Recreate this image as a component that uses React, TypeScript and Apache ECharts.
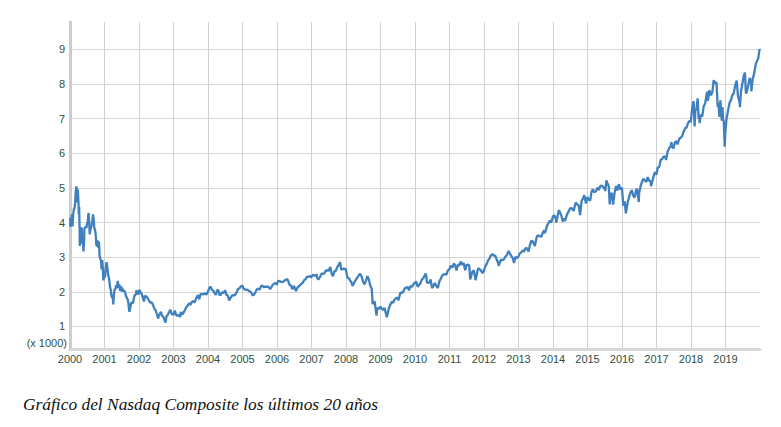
import React, { useEffect, useRef } from "react";
import * as echarts from "echarts";

// Nasdaq Composite closes (points)
const dates: string[] = [
  "2000-01-03","2000-01-04","2000-01-07","2000-01-14","2000-01-21","2000-01-28","2000-02-04","2000-02-11","2000-02-18","2000-02-25","2000-03-03","2000-03-10","2000-03-15","2000-03-24","2000-03-31","2000-04-03","2000-04-07","2000-04-12","2000-04-14","2000-04-18","2000-04-24","2000-04-28","2000-05-05","2000-05-10","2000-05-12","2000-05-19","2000-05-23","2000-05-30","2000-06-02","2000-06-09","2000-06-16","2000-06-23","2000-06-30","2000-07-07","2000-07-14","2000-07-17","2000-07-21","2000-07-28","2000-08-04","2000-08-11","2000-08-18","2000-08-25","2000-09-01","2000-09-08","2000-09-15","2000-09-22","2000-09-29","2000-10-06","2000-10-13","2000-10-20","2000-10-27","2000-11-03","2000-11-10","2000-11-17","2000-11-24","2000-12-01","2000-12-08","2000-12-15","2000-12-20","2000-12-29",
  "2001-01-05","2001-01-12","2001-01-19","2001-01-24","2001-02-02","2001-02-09","2001-02-16","2001-02-23","2001-03-02","2001-03-09","2001-03-16","2001-03-22","2001-03-30","2001-04-04","2001-04-06","2001-04-12","2001-04-18","2001-04-27","2001-05-04","2001-05-11","2001-05-22","2001-05-31","2001-06-08","2001-06-15","2001-06-22","2001-06-29","2001-07-06","2001-07-13","2001-07-20","2001-07-31","2001-08-10","2001-08-17","2001-08-31","2001-09-10","2001-09-21","2001-09-28","2001-10-05","2001-10-12","2001-10-19","2001-10-31","2001-11-09","2001-11-16","2001-11-30","2001-12-05","2001-12-14","2001-12-21","2001-12-31",
  "2002-01-04","2002-01-18","2002-01-31","2002-02-22","2002-03-06","2002-03-28","2002-04-15","2002-04-30","2002-05-15","2002-05-31","2002-06-14","2002-06-28","2002-07-10","2002-07-23","2002-07-31","2002-08-22","2002-08-30","2002-09-13","2002-09-30","2002-10-09","2002-10-18","2002-10-31","2002-11-15","2002-11-27","2002-12-13","2002-12-31",
  "2003-01-14","2003-01-31","2003-02-14","2003-02-28","2003-03-11","2003-03-21","2003-03-31","2003-04-15","2003-04-30","2003-05-15","2003-05-30","2003-06-17","2003-06-30","2003-07-15","2003-07-31","2003-08-11","2003-08-29","2003-09-18","2003-09-30","2003-10-15","2003-10-31","2003-11-14","2003-11-28","2003-12-15","2003-12-31",
  "2004-01-15","2004-01-26","2004-02-13","2004-02-27","2004-03-10","2004-03-24","2004-04-08","2004-04-20","2004-04-30","2004-05-14","2004-05-28","2004-06-15","2004-06-30","2004-07-15","2004-07-30","2004-08-12","2004-08-31","2004-09-15","2004-09-30","2004-10-15","2004-10-29","2004-11-15","2004-11-30","2004-12-15","2004-12-31",
  "2005-01-14","2005-01-31","2005-02-15","2005-02-28","2005-03-15","2005-03-31","2005-04-15","2005-04-28","2005-05-16","2005-05-31","2005-06-15","2005-06-30","2005-07-15","2005-07-29","2005-08-15","2005-08-31","2005-09-15","2005-09-30","2005-10-21","2005-10-31","2005-11-15","2005-11-30","2005-12-15","2005-12-30",
  "2006-01-13","2006-01-31","2006-02-15","2006-02-28","2006-03-15","2006-03-31","2006-04-19","2006-04-28","2006-05-15","2006-05-31","2006-06-13","2006-06-30","2006-07-21","2006-07-31","2006-08-15","2006-08-31","2006-09-15","2006-09-29","2006-10-16","2006-10-31","2006-11-15","2006-11-30","2006-12-15","2006-12-29",
  "2007-01-16","2007-01-31","2007-02-26","2007-02-28","2007-03-14","2007-03-30","2007-04-16","2007-04-30","2007-05-15","2007-05-31","2007-06-15","2007-06-29","2007-07-19","2007-07-31","2007-08-16","2007-08-31","2007-09-14","2007-09-28","2007-10-15","2007-10-31","2007-11-12","2007-11-30","2007-12-14","2007-12-31",
  "2008-01-15","2008-01-31","2008-02-15","2008-02-29","2008-03-10","2008-03-31","2008-04-15","2008-04-30","2008-05-19","2008-05-30","2008-06-13","2008-06-30","2008-07-15","2008-07-31","2008-08-15","2008-08-29","2008-09-15","2008-09-30","2008-10-10","2008-10-31","2008-11-20","2008-11-28","2008-12-15","2008-12-31",
  "2009-01-15","2009-01-30","2009-02-13","2009-02-27","2009-03-09","2009-03-31","2009-04-15","2009-04-30","2009-05-15","2009-05-29","2009-06-15","2009-06-30","2009-07-10","2009-07-31","2009-08-17","2009-08-31","2009-09-15","2009-09-30","2009-10-15","2009-10-30","2009-11-13","2009-11-30","2009-12-15","2009-12-31",
  "2010-01-15","2010-01-29","2010-02-05","2010-02-26","2010-03-15","2010-03-31","2010-04-23","2010-04-30","2010-05-07","2010-05-28","2010-06-15","2010-06-30","2010-07-15","2010-07-30","2010-08-13","2010-08-31","2010-09-15","2010-09-30","2010-10-15","2010-10-29","2010-11-15","2010-11-30","2010-12-15","2010-12-31",
  "2011-01-14","2011-01-31","2011-02-15","2011-02-28","2011-03-16","2011-03-31","2011-04-15","2011-04-29","2011-05-16","2011-05-31","2011-06-16","2011-06-30","2011-07-15","2011-07-29","2011-08-08","2011-08-31","2011-09-15","2011-09-30","2011-10-03","2011-10-31","2011-11-15","2011-11-30","2011-12-15","2011-12-30",
  "2012-01-13","2012-01-31","2012-02-15","2012-02-29","2012-03-15","2012-03-30","2012-04-16","2012-04-30","2012-05-15","2012-05-31","2012-06-04","2012-06-29","2012-07-13","2012-07-31","2012-08-15","2012-08-31","2012-09-19","2012-09-28","2012-10-15","2012-10-31","2012-11-15","2012-11-30","2012-12-14","2012-12-31",
  "2013-01-15","2013-01-31","2013-02-15","2013-02-28","2013-03-15","2013-03-28","2013-04-18","2013-04-30","2013-05-15","2013-05-31","2013-06-24","2013-06-28","2013-07-15","2013-07-31","2013-08-15","2013-08-30","2013-09-16","2013-09-30","2013-10-08","2013-10-31","2013-11-15","2013-11-29","2013-12-13","2013-12-31",
  "2014-01-15","2014-01-31","2014-02-04","2014-02-28","2014-03-05","2014-03-31","2014-04-15","2014-04-30","2014-05-08","2014-05-30","2014-06-16","2014-06-30","2014-07-15","2014-07-31","2014-08-07","2014-08-29","2014-09-15","2014-09-30","2014-10-15","2014-10-31","2014-11-14","2014-11-28","2014-12-16","2014-12-31",
  "2015-01-15","2015-01-30","2015-02-13","2015-02-27","2015-03-13","2015-03-31","2015-04-15","2015-04-30","2015-05-15","2015-05-29","2015-06-15","2015-06-30","2015-07-08","2015-07-20","2015-07-31","2015-08-14","2015-08-24","2015-08-31","2015-09-15","2015-09-29","2015-10-15","2015-10-30","2015-11-13","2015-11-30","2015-12-14","2015-12-31",
  "2016-01-15","2016-01-29","2016-02-11","2016-02-29","2016-03-15","2016-03-31","2016-04-15","2016-04-29","2016-05-13","2016-05-31","2016-06-08","2016-06-27","2016-06-30","2016-07-15","2016-07-29","2016-08-15","2016-08-31","2016-09-15","2016-09-30","2016-10-14","2016-10-31","2016-11-04","2016-11-30","2016-12-15","2016-12-30",
  "2017-01-13","2017-01-31","2017-02-15","2017-02-28","2017-03-15","2017-03-31","2017-04-13","2017-04-28","2017-05-15","2017-05-31","2017-06-08","2017-06-14","2017-06-30","2017-07-14","2017-07-31","2017-08-11","2017-08-31","2017-09-15","2017-09-29","2017-10-13","2017-10-31","2017-11-15","2017-11-30","2017-12-15","2017-12-29",
  "2018-01-12","2018-01-26","2018-01-31","2018-02-08","2018-02-16","2018-02-28","2018-03-12","2018-03-23","2018-03-29","2018-04-02","2018-04-13","2018-04-30","2018-05-15","2018-05-31","2018-06-20","2018-06-29","2018-07-13","2018-07-31","2018-08-15","2018-08-29","2018-09-14","2018-09-28","2018-10-11","2018-10-19","2018-10-29","2018-11-08","2018-11-23","2018-11-30","2018-12-07","2018-12-14","2018-12-24","2018-12-31",
  "2019-01-11","2019-01-31","2019-02-15","2019-02-28","2019-03-15","2019-03-29","2019-04-15","2019-04-30","2019-05-13","2019-05-31","2019-06-03","2019-06-14","2019-06-28","2019-07-15","2019-07-26","2019-08-05","2019-08-14","2019-08-30","2019-09-13","2019-09-30","2019-10-02","2019-10-15","2019-10-31","2019-11-15","2019-11-29","2019-12-13","2019-12-27","2019-12-31"
];

const closes: number[] = [
  4131,3901,3882,4064,4235,3887,4244,4395,4411,4590,4914,5048,4583,4963,4573,4223,4446,3769,3321,3794,3482,3860,3817,3385,3529,3390,3164,3459,3813,3874,3860,3845,3966,4023,4246,4274,4095,3663,3787,3789,3930,4042,4234,4098,3835,3803,3672,3361,3316,3483,3278,3451,3028,3027,2904,2645,2917,2653,2332,2470,
  2407,2626,2770,2859,2660,2470,2425,2262,2117,2052,1890,1830,1840,1638,1720,1961,2079,2075,2192,2107,2313,2110,2215,2028,2034,2160,2004,2084,2029,2027,1956,1867,1805,1695,1423,1498,1605,1703,1671,1690,1828,1898,1930,2046,1953,1945,1950,
  2059,1990,1934,1724,1890,1845,1756,1688,1696,1615,1504,1463,1346,1229,1328,1422,1315,1291,1172,1114,1287,1330,1411,1487,1362,1336,
  1460,1321,1310,1337,1271,1421,1341,1392,1464,1551,1596,1677,1623,1716,1735,1687,1810,1909,1787,1939,1932,1930,1960,1919,2003,
  2111,2153,2053,2030,1964,1910,2052,2050,1920,1905,1987,1970,2048,1913,1887,1752,1838,1905,1897,1912,1975,2094,2097,2160,2175,
  2087,2062,2061,2052,2016,1999,1909,1904,1977,2068,2091,2057,2157,2185,2137,2152,2147,2152,2082,2120,2200,2233,2253,2205,
  2317,2306,2282,2281,2311,2340,2370,2323,2198,2179,2072,2172,2020,2091,2157,2184,2235,2258,2344,2367,2440,2432,2457,2415,
  2497,2464,2504,2416,2350,2422,2518,2525,2525,2605,2627,2603,2720,2546,2451,2596,2602,2701,2780,2859,2641,2661,2668,2652,
  2417,2390,2321,2271,2169,2279,2351,2413,2492,2523,2454,2293,2215,2326,2453,2368,2179,2092,1649,1721,1316,1536,1508,1577,
  1511,1476,1535,1378,1268,1529,1626,1717,1680,1774,1817,1835,1756,1979,1969,2009,2102,2122,2139,2045,2167,2145,2212,2269,
  2287,2147,2141,2238,2362,2398,2530,2461,2265,2257,2357,2109,2179,2255,2173,2114,2301,2369,2468,2507,2514,2498,2617,2653,
  2755,2700,2816,2782,2616,2781,2764,2874,2782,2835,2623,2774,2789,2756,2358,2579,2622,2415,2335,2684,2657,2620,2539,2605,
  2724,2814,2916,2967,3056,3091,3042,3046,2933,2827,2748,2935,2908,2940,3016,3067,3182,3116,3044,2977,2836,3010,2971,3020,
  3110,3142,3198,3160,3249,3268,3166,3329,3471,3456,3321,3403,3607,3626,3602,3590,3717,3771,3694,3920,3985,4060,4000,4177,
  4215,4104,3996,4308,4358,4199,4034,4115,4051,4243,4321,4408,4417,4370,4335,4580,4519,4493,4215,4631,4688,4792,4547,4736,
  4662,4635,4893,4964,4871,4901,5011,4941,5048,5070,5030,4987,4910,5219,5128,5048,4526,4777,4860,4517,4870,5054,4927,5109,4953,5007,
  4488,4614,4267,4558,4728,4870,4938,4775,4718,4948,4975,4594,4843,5029,5162,5262,5213,5173,5312,5214,5189,5046,5324,5457,5383,
  5575,5615,5819,5825,5900,5912,5806,6048,6149,6199,6322,6195,6140,6312,6348,6256,6429,6448,6496,6606,6728,6743,6874,6937,6903,
  7261,7505,7411,6777,7239,7273,7588,6993,7063,6870,7107,7066,7351,7442,7781,7510,7826,7672,7775,8109,8010,8046,7329,7449,7050,7530,6939,7331,6969,6910,6193,6635,
  6971,7282,7472,7533,7688,7729,7976,8095,7647,7453,7333,7797,8006,8258,8330,7726,7774,7963,8176,7999,7785,8149,8292,8541,8665,8735,9006,8973
];

const yTickValues: number[] = [1, 2, 3, 4, 5, 6, 7, 8, 9];
const yearStart = 2000;
const yearEnd = 2020;
const yAxisNote = "(x 1000)";
const caption = "Gráfico del Nasdaq Composite los últimos 20 años";

function toDecimalYear(s: string): number {
  const [y, m, d] = s.split("-").map(Number);
  const start = Date.UTC(y, 0, 1);
  const end = Date.UTC(y + 1, 0, 1);
  const t = Date.UTC(y, m - 1, d);
  return y + (t - start) / (end - start);
}

export default function App() {
  const ref = useRef<HTMLDivElement>(null);
  useEffect(() => {
    if (!ref.current) return;
    const chart = echarts.init(ref.current, null, { renderer: "svg" });
    const data = dates.map((d, i) => [toDecimalYear(d), closes[i] / 1000]);
    const labelColor = "#2f5045";
    chart.setOption({
      animation: false,
      grid: { left: 70, right: 21, top: 22, bottom: 78, containLabel: false },
      xAxis: {
        type: "value",
        min: yearStart,
        max: yearEnd,
        interval: 1,
        axisLine: { show: true, lineStyle: { color: "#d6d6d6", width: 3 } },
        axisTick: { show: false },
        axisLabel: {
          color: labelColor,
          fontSize: 11,
          fontFamily: "Arial, Liberation Sans, sans-serif",
          margin: 4,
          formatter: (v: number) => (v >= yearEnd ? "" : String(v)),
        },
        splitLine: {
          show: true,
          showMinLine: false,
          showMaxLine: false,
          lineStyle: { color: "#d2d2d2", width: 1 },
        },
      },
      yAxis: {
        type: "value",
        min: 0.35,
        max: 9.79,
        axisLine: { show: true, lineStyle: { color: "#cccccc", width: 3 } },
        axisTick: { show: false, customValues: yTickValues },
        axisLabel: {
          color: labelColor,
          fontSize: 11,
          fontFamily: "Arial, Liberation Sans, sans-serif",
          margin: 5,
          customValues: yTickValues,
        },
        splitLine: { show: true, lineStyle: { color: "#d6d6d6", width: 1 } },
      },
      graphic: [
        {
          type: "text",
          right: 781 - 67,
          top: 337,
          style: {
            text: yAxisNote,
            fill: labelColor,
            fontSize: 11,
            fontFamily: "Arial, Liberation Sans, sans-serif",
          },
        },
        {
          type: "text",
          left: 23,
          top: 395,
          style: {
            text: caption,
            fill: "#111111",
            fontSize: 17.4,
            fontStyle: "italic",
            fontFamily: "Liberation Serif, Times New Roman, serif",
          },
        },
      ],
      series: [
        {
          type: "line",
          data,
          showSymbol: false,
          symbol: "none",
          lineStyle: { color: "#3f80bf", width: 2.3 },
        },
      ],
    });
    return () => chart.dispose();
  }, []);
  return (
    <div
      ref={ref}
      style={{ position: "absolute", left: 0, top: 0, width: 781, height: 427, background: "#fff" }}
    />
  );
}
